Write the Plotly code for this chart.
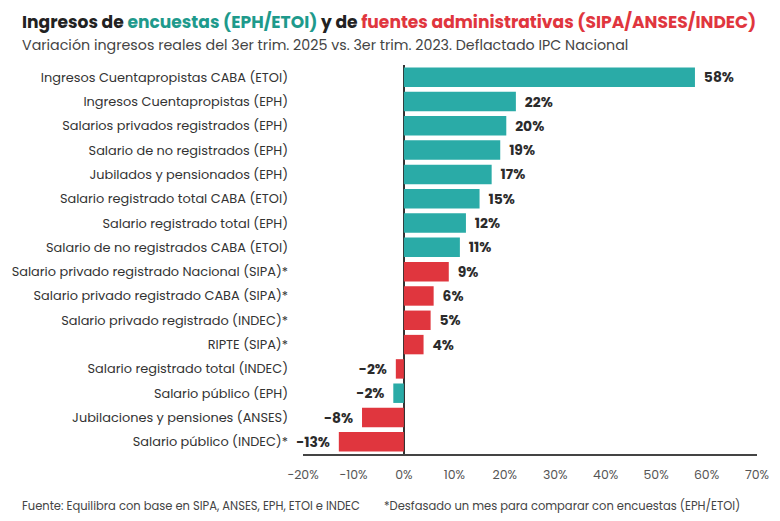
import plotly.graph_objects as go

categories = [
    "Ingresos Cuentapropistas CABA (ETOI)",
    "Ingresos Cuentapropistas (EPH)",
    "Salarios privados registrados (EPH)",
    "Salario de no registrados (EPH)",
    "Jubilados y pensionados (EPH)",
    "Salario registrado total CABA (ETOI)",
    "Salario registrado total (EPH)",
    "Salario de no registrados CABA (ETOI)",
    "Salario privado registrado Nacional (SIPA)*",
    "Salario privado registrado CABA (SIPA)*",
    "Salario privado registrado (INDEC)*",
    "RIPTE (SIPA)*",
    "Salario registrado total (INDEC)",
    "Salario público (EPH)",
    "Jubilaciones y pensiones (ANSES)",
    "Salario público (INDEC)*",
]
values = [57.7, 22.2, 20.3, 19.1, 17.4, 15.0, 12.3, 11.1,
          8.9, 5.9, 5.3, 3.9, -1.6, -2.1, -8.3, -12.9]
labels = ["58%", "22%", "20%", "19%", "17%", "15%", "12%", "11%",
          "9%", "6%", "5%", "4%", "-2%", "-2%", "-8%", "-13%"]
source_type = ["enc"] * 8 + ["adm"] * 4 + ["adm", "enc", "adm", "adm"]

TEAL = "#2AABA7"
RED = "#E0363E"
colors = [TEAL if s == "enc" else RED for s in source_type]

FONT = "Poppins, Inter, sans-serif"
NB = "\u00a0"
padded = [(NB * 2 + s) if v >= 0 else (s + NB * 2) for s, v in zip(labels, values)]

fig = go.Figure(go.Bar(
    x=values, y=categories, orientation="h",
    marker=dict(color=colors, line=dict(width=0)),
    text=padded, textposition="outside", cliponaxis=False,
    textfont=dict(family=FONT, size=15, color="#2b2b2b", weight="bold"),
    width=0.8,
))

fig.update_layout(
    width=780, height=521,
    margin=dict(l=303, r=23, t=65, b=67, autoexpand=False),
    paper_bgcolor="white", plot_bgcolor="white",
    showlegend=False,
    font=dict(family=FONT, color="#333"),
    xaxis=dict(range=[-20, 70], dtick=10, ticksuffix="%",
               showgrid=False, zeroline=True, zerolinecolor="#333", zerolinewidth=1.5,
               showline=True, linecolor="#444", linewidth=1.5,
               tickfont=dict(size=12.5, color="#555"), ticks="", ticklen=0,
               ticklabelstandoff=8),
    yaxis=dict(autorange="reversed", showgrid=False, ticks="",
               tickfont=dict(size=12.9, color="#333"), ticklabelstandoff=14),
    annotations=[
        dict(x=20, y=22, xanchor="left", yanchor="middle",
             text=("<b>Ingresos de <span style='color:#1E9A8C'>encuestas (EPH/ETOI)</span> y de "
                   "<span style='color:#E0363E'>fuentes administrativas (SIPA/ANSES/INDEC)</span></b>"),
             showarrow=False, font=dict(size=17.1, color="#222", family=FONT)),
        dict(x=20, y=45, xanchor="left", yanchor="middle",
             text="Variación ingresos reales del 3er trim. 2025 vs. 3er trim. 2023. Deflactado IPC Nacional",
             showarrow=False, font=dict(size=14.25, color="#444", family=FONT)),
        dict(x=20, y=506, xanchor="left", yanchor="middle",
             text="Fuente: Equilibra con base en SIPA, ANSES, EPH, ETOI e INDEC",
             showarrow=False, font=dict(size=11.5, color="#444", family=FONT)),
        dict(x=382, y=506, xanchor="left", yanchor="middle",
             text="*Desfasado un mes para comparar con encuestas (EPH/ETOI)",
             showarrow=False, font=dict(size=11.5, color="#444", family=FONT)),
    ],
)
W, H = 780, 521
l, r, t, b = 303, 23, 65, 67
pw, ph = W - l - r, H - t - b
for a in fig.layout.annotations:
    a.xref = "paper"; a.yref = "paper"
    px, py = a.x, a.y
    a.x = (px - l) / pw
    a.y = 1 - (py - t) / ph

fig.write_html("out.html")
